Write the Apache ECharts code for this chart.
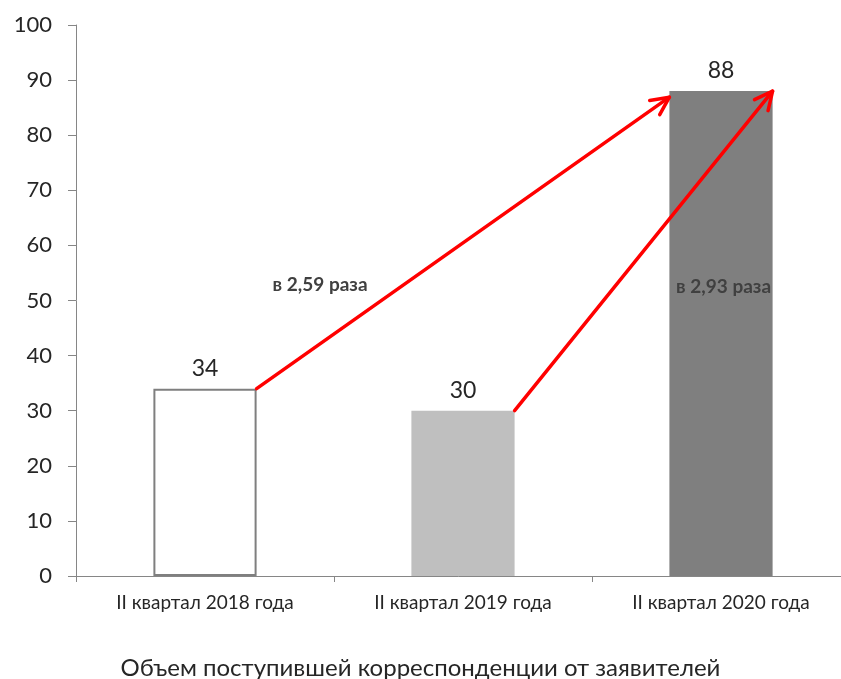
<!DOCTYPE html>
<html>
<head>
<meta charset="utf-8">
<script src="https://cdn.jsdelivr.net/npm/echarts@6/dist/echarts.min.js"></script>
<style>
html, body { margin: 0; padding: 0; background: #fff; }
#chart { width: 841px; height: 679px; }
</style>
</head>
<body>
<div id="chart"></div>
<script>
var categories = ['II квартал 2018 года', 'II квартал 2019 года', 'II квартал 2020 года'];
var values = [34, 30, 88];
var barColors = ['#ffffff', '#bfbfbf', '#7f7f7f'];
var yTicks = [0, 10, 20, 30, 40, 50, 60, 70, 80, 90, 100];
var chartTitle = 'Объем поступившей корреспонденции от заявителей';
// arrows: [x0, y0, x1, y1] on a hidden value axis (category centres at 0, 1, 2)
var arrows = [
    [0.2, 34, 1.8, 86.9],
    [1.2, 30, 2.2, 88]
];
// ratio labels: [x, y, text]
var ratioLabels = [
    [0.446, 52.8, 'в 2,59 раза'],
    [2.01, 52.4, 'в 2,93 раза']
];

var font = 'Lato';
var axisGray = '#868686';
var textColor = '#262626';

var myChart = echarts.init(document.getElementById('chart'));
var option = {
    animation: false,
    backgroundColor: '#fff',
    textStyle: { fontFamily: font },
    title: {
        text: chartTitle,
        left: 'center',
        top: 651,
        textStyle: { fontFamily: font, fontSize: 24, fontWeight: 'normal', color: textColor }
    },
    grid: { left: 76, width: 774, top: 25, height: 551, outerBoundsMode: 'none', containLabel: false },
    xAxis: [{
        type: 'category',
        data: categories,
        axisLine: { onZero: false, lineStyle: { color: axisGray, width: 1 } },
        axisTick: { show: true, length: 6, lineStyle: { color: axisGray } },
        axisLabel: { fontSize: 19, color: textColor, margin: 17, fontFamily: font }
    }, {
        type: 'value',
        min: -0.5,
        max: 2.5,
        show: false
    }],
    yAxis: {
        type: 'value',
        min: yTicks[0],
        max: yTicks[yTicks.length - 1],
        interval: 10,
        axisLine: { show: true, onZero: false, lineStyle: { color: axisGray, width: 1 } },
        axisTick: { show: true, length: 8, lineStyle: { color: axisGray } },
        splitLine: { show: false },
        axisLabel: { fontSize: 22, color: textColor, margin: 24, fontFamily: font }
    },
    series: [{
        type: 'bar',
        barWidth: '40%',
        data: values.map(function (v, i) {
            return {
                value: v,
                itemStyle: {
                    color: barColors[i],
                    borderColor: i === 0 ? '#7f7f7f' : barColors[i],
                    borderWidth: i === 0 ? 2 : 0
                }
            };
        }),
        label: {
            show: true,
            position: 'top',
            distance: 9,
            fontSize: 23,
            color: textColor,
            fontFamily: font
        },
        z: 2
    }, {
        type: 'custom',
        xAxisIndex: 1,
        yAxisIndex: 0,
        data: arrows,
        encode: { x: [0, 2], y: [1, 3] },
        z: 5,
        renderItem: function (params, api) {
            var p0 = api.coord([api.value(0), api.value(1)]);
            var p1 = api.coord([api.value(2), api.value(3)]);
            var ang = Math.atan2(p1[1] - p0[1], p1[0] - p0[0]);
            var len = 20, spread = 0.45;
            var a1 = [p1[0] - len * Math.cos(ang - spread), p1[1] - len * Math.sin(ang - spread)];
            var a2 = [p1[0] - len * Math.cos(ang + spread), p1[1] - len * Math.sin(ang + spread)];
            var st = { stroke: '#ff0000', lineWidth: 3.5, fill: null, lineCap: 'round', lineJoin: 'round' };
            return {
                type: 'group',
                children: [
                    { type: 'line', shape: { x1: p0[0], y1: p0[1], x2: p1[0], y2: p1[1] }, style: st },
                    { type: 'polyline', shape: { points: [a1, p1, a2] }, style: st }
                ]
            };
        }
    }, {
        type: 'custom',
        xAxisIndex: 1,
        yAxisIndex: 0,
        data: ratioLabels,
        encode: { x: 0, y: 1 },
        z: 6,
        renderItem: function (params, api) {
            var p = api.coord([api.value(0), api.value(1)]);
            return {
                type: 'text',
                x: p[0],
                y: p[1],
                style: {
                    text: ratioLabels[params.dataIndex][2],
                    fill: '#404040',
                    font: 'bold 19px "' + font + '"',
                    align: 'center',
                    verticalAlign: 'middle'
                }
            };
        }
    }]
};
myChart.setOption(option);
</script>
</body>
</html>
